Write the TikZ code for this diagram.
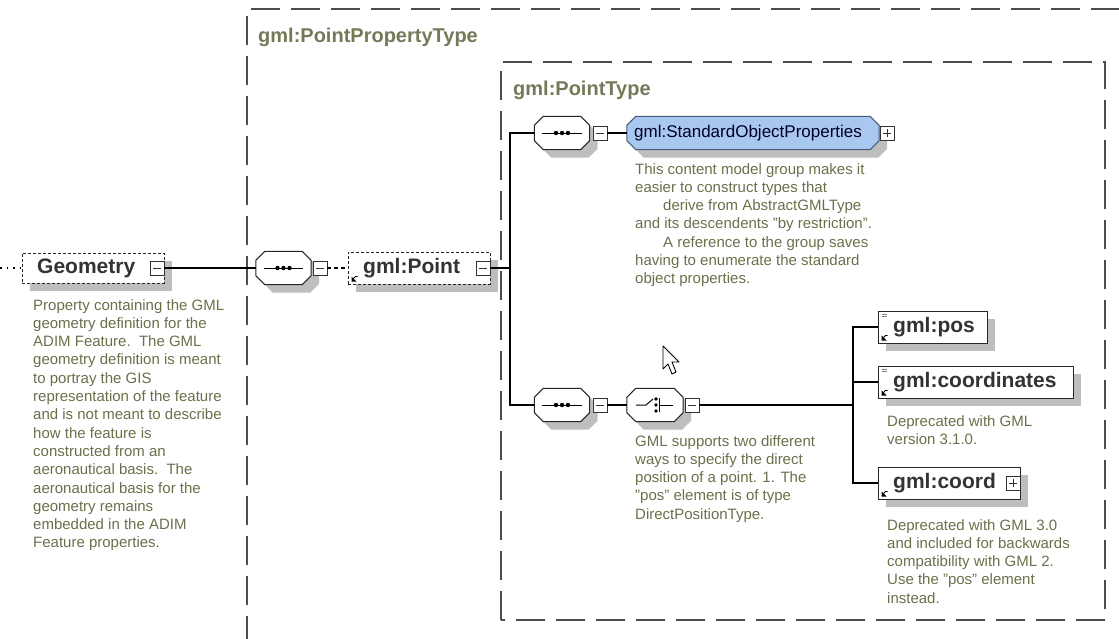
\documentclass[tikz,border=0pt]{standalone}
\usepackage{fontspec}
\setmainfont{Liberation Sans}
\usetikzlibrary{shadows,calc}
\definecolor{titlecol}{RGB}{118,121,88}
\definecolor{desccol}{RGB}{108,111,74}
\definecolor{shadowcol}{RGB}{190,190,190}
\definecolor{sopfill}{RGB}{168,200,240}
\definecolor{sopdraw}{RGB}{70,90,120}
\newcommand\dq{\char34\relax}
% chamfered outline with shadow: name, cut, fill, draw
\newcommand\chpoly[3]{($(#1.north west)+(#3+#2,#3)$) -- ($(#1.north east)+(#3-#2,#3)$) -- ($(#1.north east)+(#3,#3+#2)$) -- ($(#1.south east)+(#3,#3-#2)$) -- ($(#1.south east)+(#3-#2,#3)$) -- ($(#1.south west)+(#3+#2,#3)$) -- ($(#1.south west)+(#3,#3-#2)$) -- ($(#1.north west)+(#3,#3+#2)$) -- cycle}
\newcommand\chamf[4]{%
  \fill[shadowcol] \chpoly{#1}{#2}{8};
  \draw[fill=#3, draw=#4, line width=1pt, line join=round] \chpoly{#1}{#2}{0};}
\newcommand\seqicon[1]{%
  \draw[line width=1pt] ([xshift=8pt]#1.west) -- ([xshift=-8pt]#1.east);
  \foreach \dx in {-6,0,6} \fill ($(#1.center)+(\dx,0)$) circle (2.2);}
\newcommand\choiceicon[1]{%
  \draw[line width=1pt] ($(#1.center)+(-19,0)$) -- ++(10,0) -- ++(7,-6);
  \foreach \dy in {-6,0,6} \fill ($(#1.center)+(1,\dy)$) circle (1.9);
  \draw[line width=1pt] ($(#1.center)+(4,-7)$) -- ++(0,14);
  \draw[line width=1pt] ($(#1.center)+(4,0)$) -- ++(14,0);}
\newcommand\refmark[1]{%
  \fill[black] ($(#1.south west)+(4,-3)$) -- ++(5,0) -- ++(-5,-5) -- cycle;
  \draw[line width=0.8pt] ($(#1.south west)+(5,-5)$) -- ++(3,-3) -- ++(2,0);}
\newcommand\multimark[1]{%
  \draw[gray,line width=0.7pt] ($(#1.north west)+(4,3.5)$) -- ++(5,0)
        ($(#1.north west)+(4,6)$) -- ++(5,0);}
\begin{document}
\begin{tikzpicture}[x=1pt,y=-1pt,
  frame/.style={draw=black!70, line width=1.3pt, dash pattern=on 29pt off 11pt},
  title/.style={font=\fontsize{20}{24}\selectfont\bfseries, text=titlecol, anchor=west, inner sep=0},
  shad/.style={drop shadow={shadow xshift=8pt, shadow yshift=-8pt, fill=shadowcol, opacity=1}},
  elem/.style={rectangle, draw=black!85, line width=1pt, fill=white, inner sep=0, minimum height=32pt, shad},
  optelem/.style={elem, dash pattern=on 3pt off 2pt},
  lab/.style={font=\fontsize{21}{24}\selectfont\bfseries, text=black!80, anchor=west, inner sep=0},
  comp/.style={rectangle, minimum width=55pt, minimum height=33pt, inner sep=0},
  btn/.style={rectangle, draw=black!80, fill=white, line width=0.9pt, minimum size=14pt, inner sep=0},
  minus/.style={btn, path picture={\draw[line width=0.9pt] ([xshift=3pt]path picture bounding box.west) -- ([xshift=-3pt]path picture bounding box.east);}},
  plus/.style={btn, path picture={\draw[line width=0.9pt] ([xshift=3pt]path picture bounding box.west) -- ([xshift=-3pt]path picture bounding box.east)
      ([yshift=3pt]path picture bounding box.south) -- ([yshift=-3pt]path picture bounding box.north);}},
  conn/.style={draw=black, line width=1.3pt},
  desc/.style={font=\fontsize{15}{18.3}\selectfont, text=desccol, align=left, anchor=north west, inner sep=0}
]
\useasboundingbox (0,0) rectangle (1119,638);

% frames
\draw[frame] (247,645) -- (247,9) -- (1125,9);
\node[title] (t1) at (258,37) {gml:PointPropertyType};
\draw[frame] (501,620) -- (501,62) -- (1105,62) -- (1105,620) -- cycle;
\node[title] (t2) at (513,90) {gml:PointType};

% Geometry
\node[optelem, minimum width=142pt, minimum height=30pt] (geo) at (93,268) {};
\node[lab] (geol) at (37,268) {Geometry};
\node[minus] (geob) at (157,268) {};
\coordinate (lft) at (0,268);
\draw[line width=1.3pt, dash pattern=on 1.5pt off 5pt] (lft) -- (geo.west);
\node[desc] (geod) at (33,299) {Property containing the GML\\geometry definition for the\\ADIM Feature.\ \ The GML\\geometry definition is meant\\to portray the GIS\\representation of the feature\\and is not meant to describe\\how the feature is\\constructed from an\\aeronautical basis.\ \ The\\aeronautical basis for the\\geometry remains\\embedded in the ADIM\\Feature properties.};

% sequence 1 and gml:Point
\node[comp] (s1) at (283.5,268) {};
\chamf{s1}{9}{white}{black!85}
\seqicon{s1}
\node[minus] (s1b) at (320,268) {};
\node[optelem, minimum width=142pt] (pt) at (419,268) {};
\node[lab] (ptl) at (363,268) {gml:Point};
\node[minus] (ptb) at (483,268) {};
\refmark{pt}
\draw[conn] (geob.east) -- (s1.west);
\draw[conn, dash pattern=on 4pt off 3pt] (s1b.east) -- (pt.west);
\coordinate (j1) at (510,268);
\draw[conn] (ptb.east) -- (j1);

% top branch
\node[comp] (sa) at (562,133) {};
\chamf{sa}{9}{white}{black!85}
\seqicon{sa}
\node[minus] (sab) at (600,133) {};
\node[rectangle, minimum width=252pt, minimum height=33pt, inner sep=0] (sop) at (753,133) {};
\chamf{sop}{9}{sopfill}{sopdraw}
\node[font=\fontsize{17}{20}\selectfont, text=black!85!blue, anchor=west, inner sep=0] (sopl) at (634,133) {gml:StandardObjectProperties};
\node[plus] (sopb) at (887,133) {};
\draw[conn] (sab.east) -- (sop.west);
\node[desc] (sopd) at (635,163) {This content model group makes it\\easier to construct types that\\\hspace*{28pt}derive from AbstractGMLType\\and its descendents \dq by restriction\dq.\\\hspace*{28pt}A reference to the group saves\\having to enumerate the standard\\object properties.};

% bottom branch
\node[comp] (sb) at (562,405) {};
\chamf{sb}{9}{white}{black!85}
\seqicon{sb}
\node[minus] (sbb) at (600,405) {};
\node[comp, minimum width=56pt] (ch) at (655,405) {};
\chamf{ch}{9}{white}{black!85}
\choiceicon{ch}
\node[minus] (chb) at (692,405) {};
\draw[conn] (sbb.east) -- (ch.west);
\node[desc] (chd) at (635,435) {GML supports two different\\ways to specify the direct\\position of a point. 1. The\\\dq pos\dq{} element is of type\\DirectPositionType.};

\draw[conn] (sa.west) -| (j1) |- (sb.west);

% choice children
\coordinate (j2) at (853,405);
\draw[conn] (chb.east) -- (j2);
\node[elem, minimum width=109pt] (pos) at (932.5,327) {};
\node[lab] (posl) at (893,327) {gml:pos};
\refmark{pos}\multimark{pos}
\node[elem, minimum width=195pt] (crd) at (975.5,382) {};
\node[lab] (crdl) at (893,382) {gml:coordinates};
\refmark{crd}\multimark{crd}
\node[desc] (crdd) at (887,415) {Deprecated with GML\\version 3.1.0.};
\node[elem, minimum width=142pt] (co) at (949,483) {};
\node[lab] (col) at (893,483) {gml:coord};
\node[plus] (cob) at (1013,483) {};
\refmark{co}
\node[desc] (cod) at (887,519) {Deprecated with GML 3.0\\and included for backwards\\compatibility with GML 2.\\Use the \dq pos\dq{} element\\instead.};
\draw[conn] (pos.west) -| (j2) |- (co.west);
\draw[conn] (crd.west) -- (crd.west -| j2);

% mouse pointer
\draw[fill=white, line width=0.9pt, line join=round] (663,346) -- (663,369) -- (668,364) -- (672,374) -- (676,372) -- (672,362) -- (679,362) -- cycle;
\end{tikzpicture}
\end{document}
